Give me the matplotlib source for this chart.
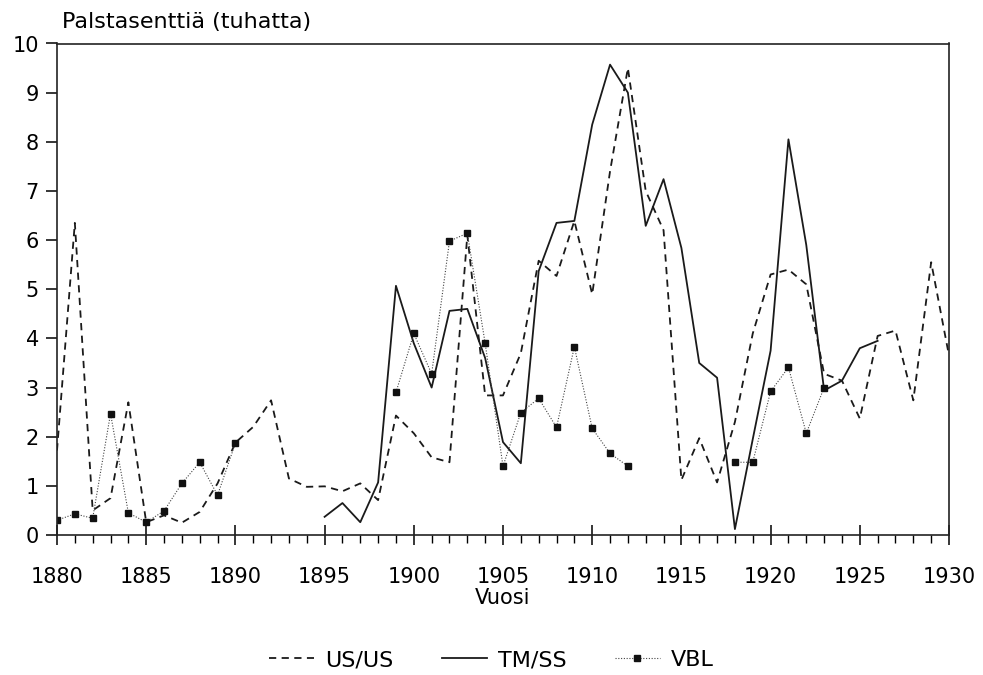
import numpy as np
import matplotlib
matplotlib.use("Agg")
import matplotlib.pyplot as plt
from matplotlib.ticker import MultipleLocator

years = list(range(1880, 1931))

us_us = [1.72, 6.35, 0.5, 0.75, 2.7, 0.26, 0.4, 0.25, 0.47, 1.05,
         1.88, 2.2, 2.74, 1.15, 0.98, 0.99, 0.89, 1.05, 0.71, 2.43,
         2.07, 1.58, 1.48, 6.1, 2.84, 2.84, 3.7, 5.58, 5.27, 6.39,
         4.9, 7.4, 9.5, 7.0, 6.2, 1.12, 1.97, 1.07, 2.3, 4.1,
         5.3, 5.4, 5.1, 3.28, 3.14, 2.37, 4.05, 4.16, 2.74, 5.55,
         3.65]

tm_years = list(range(1895, 1927))
tm_ss = [0.37, 0.65, 0.26, 1.07, 5.07, 3.9, 3.0, 4.56, 4.6, 3.6,
         1.89, 1.46, 5.37, 6.35, 6.39, 8.35, 9.57, 9.0, 6.29, 7.24,
         5.84, 3.5, 3.2, 0.12, 1.95, 3.75, 8.05, 5.9, 2.94, 3.14,
         3.8, 3.95]

vbl_years = list(range(1880, 1924))
vbl = [0.3, 0.43, 0.34, 2.47, 0.45, 0.26, 0.49, 1.05, 1.48, 0.81,
       1.87, None, None, None, None, None, None, None, None, 2.9,
       4.1, 3.28, 5.98, 6.14, 3.9, 1.4, 2.49, 2.78, 2.19, 3.83,
       2.17, 1.66, 1.40, None, None, None, None, None, 1.48, 1.48,
       2.92, 3.41, 2.07, 3.0]

series_labels = ["US/US", "TM/SS", "VBL"]
y_title = "Palstasenttiä (tuhatta)"
x_title = "Vuosi"

plt.rcParams['font.family'] = ['DejaVu Sans']

fig = plt.figure(figsize=(9.83, 6.75), dpi=100)
ax = fig.add_axes([57/983, 1-535/675, (949-57)/983, (535-43.5)/675])

ax.plot(years, us_us, color='#1a1a1a', lw=1.3, linestyle=(0, (4, 3)),
        label=series_labels[0])
ax.plot(tm_years, tm_ss, color='#1a1a1a', lw=1.3, linestyle='-',
        label=series_labels[1])
ax.plot(vbl_years, np.array(vbl, dtype=float), color='#444444', lw=0.8,
        linestyle=(0, (1, 1.5)), marker='s', markersize=4,
        markerfacecolor='#111111', markeredgecolor='#111111',
        label=series_labels[2])

ax.set_xlim(1880, 1930)
ax.set_ylim(0, 10)
ax.xaxis.set_major_locator(MultipleLocator(5))
ax.xaxis.set_minor_locator(MultipleLocator(1))
ax.yaxis.set_major_locator(MultipleLocator(1))

ax.tick_params(axis='x', which='major', direction='inout', length=14,
               width=1.1, labelsize=15, pad=16)
ax.tick_params(axis='x', which='minor', direction='out', length=6, width=1.0)
ax.tick_params(axis='y', which='major', direction='out', length=8,
               width=1.1, labelsize=15, pad=5)
for s in ax.spines.values():
    s.set_linewidth(1.2)
    s.set_color('#222222')

ax.set_xlabel(x_title, fontsize=15, labelpad=1)
fig.text(62/983, 1-22/675, y_title, fontsize=16, ha='left', va='center')

fig.legend(loc='center', bbox_to_anchor=(0.5, 1-660/675), ncol=3,
           frameon=False, fontsize=16, handlelength=2.0, columnspacing=2.2,
           handletextpad=0.5)

fig.savefig("out.png", dpi=100)
